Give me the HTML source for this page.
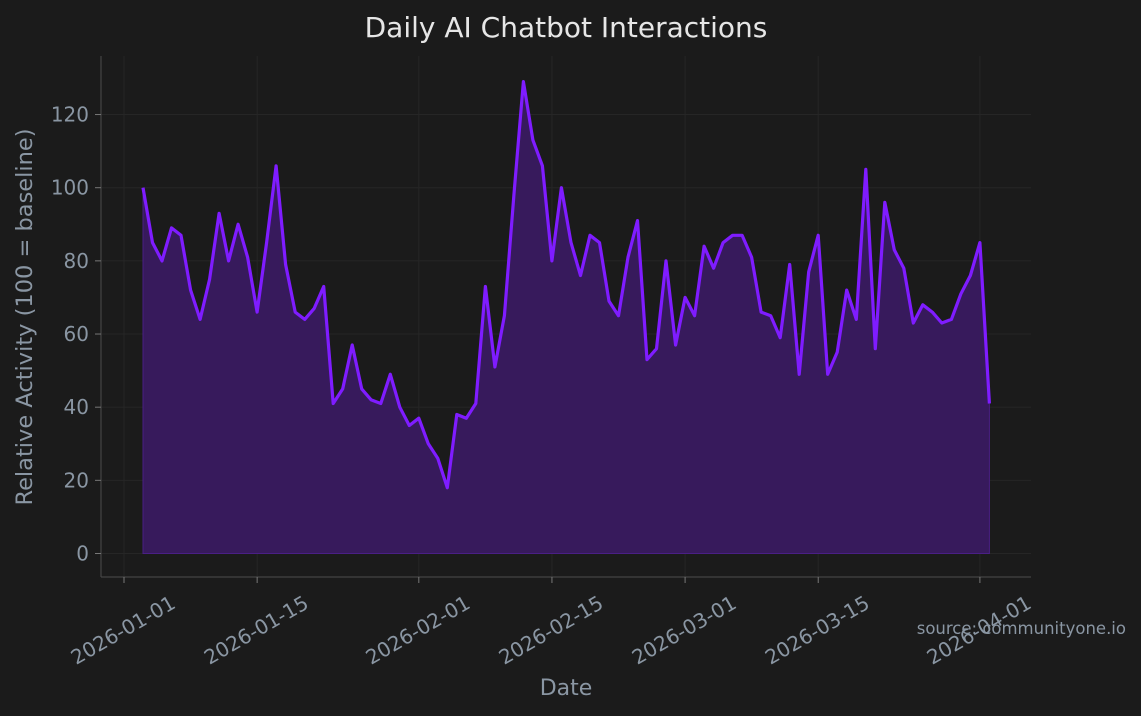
<!DOCTYPE html>
<html><head><meta charset="utf-8"><style>
body{margin:0;background:#1b1b1b;}
svg{display:block;font-family:"DejaVu Sans","Liberation Sans",sans-serif;}
</style></head><body>
<svg id="s" width="1141" height="716" xmlns="http://www.w3.org/2000/svg">
<rect width="1141" height="716" fill="#1b1b1b"/>
<text x="566" y="37" fill="#e6e6e6" font-size="28" text-anchor="middle">Daily AI Chatbot Interactions</text>
<g id="grid"></g>
<path id="area" fill="#371a5c" stroke="#4a1f85" stroke-width="1"/>
<polyline id="line" fill="none" stroke="#7f1cff" stroke-width="3.2" stroke-linejoin="round"/>
<line x1="101" y1="56" x2="101" y2="577" stroke="#444" stroke-width="1.2"/>
<line x1="101" y1="577" x2="1031" y2="577" stroke="#444" stroke-width="1.2"/>
<g id="ticks" fill="#8a96a3" font-size="20"></g>
<text transform="translate(32,317) rotate(-90)" fill="#8a96a3" font-size="22.5" text-anchor="middle">Relative Activity (100 = baseline)</text>
<text x="566" y="695" fill="#8a96a3" font-size="22" text-anchor="middle">Date</text>
<text x="1126" y="634" fill="#8a96a3" font-size="16.5" text-anchor="end">source: communityone.io</text>
</svg>
<script>
var v=[100,85,80,89,87,72,64,75,93,80,90,81,66,85,106,79,66,64,67,73,41,45,57,45,42,41,49,40,35,37,30,26,18,38,37,41,73,51,65,98,129,113,106,80,100,85,76,87,85,69,65,81,91,53,56,80,57,70,65,84,78,85,87,87,81,66,65,59,79,49,77,87,49,55,72,64,105,56,96,83,78,63,68,66,63,64,71,76,85,41];
function X(i){return 143+i*9.51;}function Y(val){return 553.5-val*3.658;}
var pts=v.map(function(a,i){return X(i).toFixed(1)+","+Y(a).toFixed(1);});
document.getElementById("line").setAttribute("points",pts.join(" "));
document.getElementById("area").setAttribute("d","M"+X(0)+","+Y(0)+" L"+pts.join(" L")+" L"+X(89).toFixed(1)+","+Y(0)+" Z");
var g="",t="";
for(var k=0;k<=120;k+=20){var y=Y(k);g+='<line x1="101" x2="1031" y1="'+y+'" y2="'+y+'" stroke="#262626" stroke-width="1"/>';
t+='<line x1="95" x2="101" y1="'+y+'" y2="'+y+'" stroke="#777"/><text x="89" y="'+(y+7)+'" text-anchor="end">'+k+'</text>';}
var d=[["2026-01-01",0],["2026-01-15",14],["2026-02-01",31],["2026-02-15",45],["2026-03-01",59],["2026-03-15",73],["2026-04-01",90]];
d.forEach(function(p){var x=124+p[1]*9.51;g+='<line y1="56" y2="577" x1="'+x+'" x2="'+x+'" stroke="#262626"/>';
t+='<line y1="577" y2="583" x1="'+x+'" x2="'+x+'" stroke="#777"/><text transform="translate('+(x-1)+',630) rotate(-30)" y="7" text-anchor="middle">'+p[0]+'</text>';});
document.getElementById("grid").innerHTML=g;document.getElementById("ticks").innerHTML=t;
</script>
</body></html>
